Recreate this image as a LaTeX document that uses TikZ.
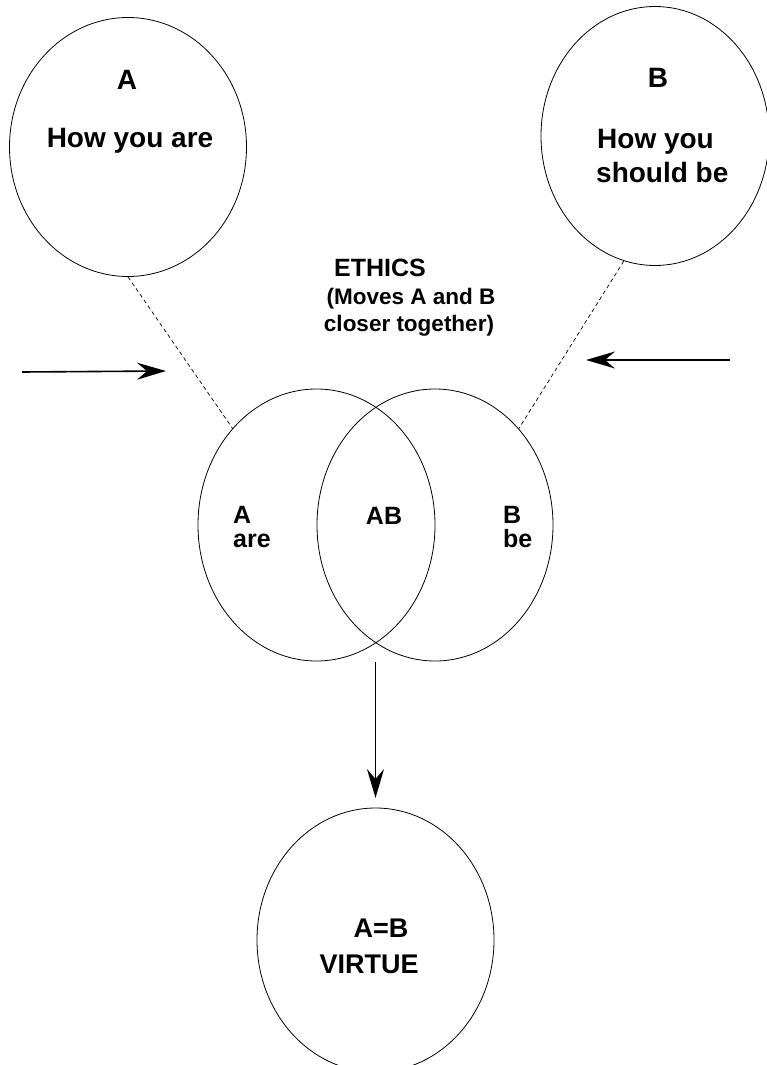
\documentclass[tikz,border=0pt]{standalone}
\usepackage{fontspec}
\setmainfont{Liberation Sans}
\usetikzlibrary{arrows.meta,shapes.geometric}
\begin{document}
\begin{tikzpicture}[x=1pt,y=-1pt,
  ring/.style={draw, ellipse, line width=0.8pt, inner sep=0pt},
  big/.style={font=\fontsize{28}{34}\selectfont\bfseries, inner sep=0pt},
  vir/.style={font=\fontsize{27}{34}\selectfont\bfseries, inner sep=0pt},
  eth/.style={font=\fontsize{25}{28}\selectfont\bfseries, inner sep=0pt},
  mid/.style={font=\fontsize{22.5}{27}\selectfont\bfseries, inner sep=0pt},
  ven/.style={font=\fontsize{25}{24}\selectfont\bfseries, inner sep=0pt, align=left},
  link/.style={line width=0.7pt, dash pattern=on 4pt off 3pt},
  push/.style={line width=1.6pt, -{Stealth[length=29pt,width=17pt,inset=10pt]}}]
\useasboundingbox (0,0) rectangle (767,1065);
% circles
\node[ring, minimum width=237pt, minimum height=259pt] (A) at (128,147) {};
\node[ring, minimum width=228pt, minimum height=259pt] (B) at (655,136) {};
\node[ring, minimum width=237pt, minimum height=272pt] (L) at (316.5,525) {};
\node[ring, minimum width=236pt, minimum height=272pt] (R) at (435,525) {};
\node[ring, minimum width=237pt, minimum height=264pt] (V) at (375.5,940) {};
% texts in A and B
\node[big, anchor=base] (tA) at (127,89) {A};
\node[big, anchor=base] (tA2) at (130,147) {How you are};
\node[big, anchor=base] (tB) at (658,88) {B};
\node[big, anchor=base west] (tB2) at (597,148) {How you};
\node[big, anchor=base west] (tB3) at (596,182) {should be};
% ethics
\node[eth, anchor=base] (e1) at (380,276) {ETHICS};
\node[mid, anchor=base] (e2) at (411,304) {(Moves A and B};
\node[mid, anchor=base] (e3) at (409,331) {closer together)};
% venn texts
\node[ven, anchor=base west] (vA) at (233,547) {A\\are};
\node[ven, anchor=base] (vAB) at (384,524) {AB};
\node[ven, anchor=base west] (vB) at (503,547) {B\\be};
% virtue
\node[vir, anchor=base] (w1) at (381,937) {A=B};
\node[vir, anchor=base] (w2) at (369,973) {VIRTUE};
% dashed links
\draw[link] (A.south) -- (L.131);
\draw[link] (B.256) -- (R.49);
% arrows
\coordinate (p1) at (22,372);
\coordinate (p2) at (166,371);
\coordinate (q1) at (730,360);
\coordinate (q2) at (586,360);
\coordinate (d1) at (375.5,662);
\coordinate (d2) at (375.5,798);
\draw[push] (p1) -- (p2);
\draw[push] (q1) -- (q2);
\draw[push] (d1) -- (d2);
\end{tikzpicture}
\end{document}
